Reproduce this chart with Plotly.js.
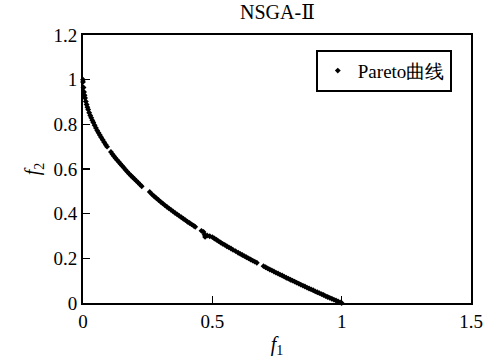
<!DOCTYPE html>
<html>
<head>
<meta charset="utf-8">
<script src="https://cdn.plot.ly/plotly-3.0.1.min.js"></script>
<style>html,body{margin:0;padding:0;background:#fff;}#chart{width:498px;height:362px;}</style>
</head>
<body>
<div id="chart"></div>
<script>
var chartTitle = "NSGA-Ⅱ";
var seriesName = "Pareto曲线";
var xTickVals = [0, 0.5, 1, 1.5];
var xTickText = ["0", "0.5", "1", "1.5"];
var yTickVals = [0, 0.2, 0.4, 0.6, 0.8, 1, 1.2];
var yTickText = ["0", "0.2", "0.4", "0.6", "0.8", "1", "1.2"];

var f1 = [0,0,0.002,0.004,0.006,0.008,0.011,0.014,0.017,0.020,0.024,0.028,0.032,0.036,0.040,0.045,0.050,0.055,0.060,0.065,0.070,0.076,0.082,0.088,0.093,
  0.108,0.114,0.120,0.126,0.132,0.138,0.144,0.150,0.157,0.164,0.171,0.178,0.185,0.192,0.199,0.206,0.213,0.220,0.227,
  0.258,0.268,0.276,0.284,0.292,0.300,0.308,0.316,0.324,0.332,0.340,0.348,0.356,0.364,0.372,0.380,0.388,0.396,0.404,0.412,0.420,0.428,0.434,
  0.458,0.466,0.470,0.472,0.480,0.490,0.500,0.508,0.516,0.524,0.532,0.540,0.548,0.556,0.564,0.572,0.580,0.590,0.600,0.608,0.616,0.624,0.632,0.640,0.648,0.656,0.664,0.672,
  0.698,0.706,0.714,0.722,0.730,0.738,0.746,0.754,0.762,0.770,0.778,0.786,0.794,0.802,0.810,0.818,0.826,0.834,0.842,0.850,0.858,0.866,0.874,0.882,0.890,0.898,0.906,0.914,0.922,0.930,0.938,0.946,0.954,0.962,0.970,0.978,0.986,0.994,1.0];
var f2 = [1.0,0.99,0.965,0.945,0.930,0.918,0.902,0.889,0.877,0.866,0.852,0.840,0.829,0.818,0.808,0.796,0.784,0.772,0.762,0.752,0.742,0.731,0.720,0.709,0.700,
  0.676,0.666,0.657,0.648,0.640,0.632,0.624,0.616,0.607,0.597,0.588,0.579,0.571,0.563,0.555,0.547,0.539,0.531,0.523,
  0.497,0.485,0.477,0.469,0.461,0.453,0.446,0.438,0.431,0.424,0.417,0.410,0.403,0.397,0.390,0.384,0.377,0.371,0.364,0.358,0.352,0.346,0.341,
  0.323,0.318,0.306,0.296,0.302,0.299,0.295,0.289,0.283,0.277,0.271,0.265,0.260,0.254,0.249,0.244,0.238,0.232,0.225,0.220,0.215,0.210,0.205,0.200,0.195,0.190,0.185,0.180,
  0.165,0.160,0.155,0.150,0.146,0.141,0.136,0.132,0.127,0.123,0.118,0.113,0.109,0.104,0.100,0.096,0.091,0.087,0.082,0.078,0.074,0.069,0.065,0.061,0.057,0.052,0.048,0.044,0.040,0.036,0.031,0.027,0.023,0.019,0.015,0.011,0.007,0.003,0.0];

var FONT = "Times New Roman, Liberation Serif, Times, DejaVu Serif, serif";

var trace = {
  x: f1, y: f2, type: "scatter", mode: "markers", name: seriesName,
  cliponaxis: false,
  marker: {symbol: "diamond", size: 4.5, color: "#000"}
};

var axisCommon = {
  showgrid: false, zeroline: false, showline: true, mirror: true,
  linecolor: "#000", linewidth: 2, ticks: "inside", ticklen: 7, tickwidth: 1.5, tickcolor: "#000",
  tickfont: {family: FONT, size: 19, color: "#000"}, fixedrange: true
};

var layout = {
  width: 498, height: 362,
  margin: {l: 83, r: 27, t: 35, b: 59, pad: 0},
  paper_bgcolor: "#fff", plot_bgcolor: "#fff",
  font: {family: FONT, color: "#000"},
  title: {text: chartTitle, font: {family: FONT, size: 20, color: "#000"}, x: 0.557, xanchor: "center", y: 0.985, yanchor: "top"},
  xaxis: Object.assign({}, axisCommon, {
    range: [0, 1.5], tickvals: xTickVals, ticktext: xTickText,
    title: {text: "<i>f</i><sub>1</sub>", font: {family: FONT, size: 20, color: "#000"}, standoff: 6}
  }),
  yaxis: Object.assign({}, axisCommon, {
    range: [0, 1.2], tickvals: yTickVals, ticktext: yTickText,
    title: {text: "<i>f</i><sub>2</sub>", font: {family: FONT, size: 20, color: "#000"}, standoff: 8}
  }),
  showlegend: true,
  legend: {
    x: 0.6, y: 0.945, xanchor: "left", yanchor: "top",
    bgcolor: "#fff", bordercolor: "#000", borderwidth: 2,
    font: {family: FONT, size: 19, color: "#000"},
    itemwidth: 30
  }
};

Plotly.newPlot("chart", [trace], layout, {staticPlot: true, displayModeBar: false});
</script>
</body>
</html>
